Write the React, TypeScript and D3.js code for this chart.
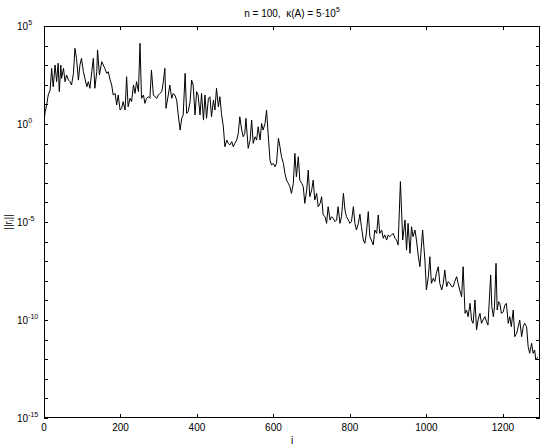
import React, { useEffect, useRef } from "react";
import * as d3 from "d3";

// iteration index i and log10 ||r_i||
const iteration = [
  1, 3, 7, 11, 16, 20, 24, 29, 33, 37,
  40, 44, 46, 51, 55, 59, 64, 68, 72, 77,
  81, 85, 90, 94, 98, 103, 107, 112, 116, 120,
  125, 129, 133, 138, 140, 145, 151, 155, 159, 164,
  168, 173, 177, 181, 186, 190, 194, 199, 203, 207,
  212, 216, 220, 225, 229, 234, 238, 242, 247, 251,
  255, 260, 264, 268, 273, 277, 281, 286, 290, 295,
  299, 303, 308, 312, 316, 319, 325, 329, 334, 338,
  342, 347, 351, 356, 360, 364, 369, 373, 377, 382,
  386, 390, 395, 399, 403, 408, 412, 417, 421, 425,
  430, 434, 438, 443, 447, 451, 456, 460, 464, 469,
  473, 478, 482, 486, 491, 495, 499, 504, 508, 512,
  517, 521, 525, 528, 534, 539, 543, 547, 552, 556,
  560, 565, 569, 573, 578, 582, 586, 591, 595, 600,
  604, 608, 613, 617, 621, 626, 630, 634, 639, 643,
  647, 652, 656, 660, 665, 669, 674, 678, 682, 687,
  691, 695, 700, 704, 708, 713, 717, 722, 726, 730,
  735, 739, 743, 748, 752, 756, 761, 765, 769, 774,
  778, 783, 787, 791, 796, 800, 804, 809, 813, 817,
  822, 826, 830, 835, 839, 843, 848, 852, 856, 861,
  865, 870, 874, 878, 883, 887, 891, 896, 900, 904,
  909, 913, 918, 922, 926, 932, 938, 944, 948, 952,
  957, 961, 965, 970, 974, 979, 983, 990, 996, 1000,
  1005, 1009, 1013, 1018, 1022, 1026, 1031, 1035, 1040, 1044,
  1048, 1053, 1057, 1061, 1066, 1070, 1074, 1079, 1083, 1087,
  1092, 1096, 1101, 1105, 1109, 1114, 1118, 1122, 1127, 1131,
  1135, 1140, 1144, 1148, 1153, 1157, 1161, 1168, 1171, 1175,
  1178, 1182, 1185, 1189, 1192, 1196, 1201, 1205, 1209, 1214,
  1218, 1222, 1227, 1231, 1236, 1240, 1244, 1249, 1253, 1257,
  1262, 1266, 1270, 1275, 1279, 1283, 1286, 1291,
];

const log10Residual = [
  0.3, 0.63, 0.97, 1.48, 1.73, 2.84, 1.9, 3.01, 2.16, 3.1,
  1.65, 3.01, 2.33, 2.84, 2.16, 2.5, 2.24, 2.16, 1.99, 2.58,
  3.86, 3.35, 2.24, 3.01, 3.35, 2.67, 2.33, 1.9, 2.16, 1.82,
  2.67, 3.35, 1.82, 2.67, 3.78, 2.5, 3.18, 3.01, 2.84, 2.58,
  2.67, 2.24, 1.99, 1.48, 1.56, 0.97, 1.48, 0.71, 0.8, 1.14,
  0.71, 2.41, 0.88, 1.31, 1.14, 1.99, 1.56, 2.16, 1.65, 4.12,
  1.31, 1.48, 1.05, 1.31, 1.39, 1.31, 2.75, 1.48, 1.39, 1.31,
  1.48, 1.56, 1.65, 2.16, 2.84, 0.8, 1.48, 1.99, 1.31, 1.56,
  1.48, 1.22, 0.46, -0.31, 0.29, 0.46, 2.58, 0.54, 0.63, 1.14,
  2.24, 1.99, 0.46, 1.65, 1.48, 0.46, 1.56, 0.2, 1.48, 0.29,
  1.31, 1.39, 0.37, 1.22, 0.71, 1.82, 0.88, 1.39, 0.54, -0.14,
  -1.16, -0.82, -0.99, -1.07, -0.9, -1.16, -0.99, -0.82, -0.48, 0.37,
  -0.31, -0.65, -0.48, 0.29, -1.24, -0.82, 0.2, -0.99, -0.65, -0.82,
  -0.14, -0.82, 0.03, -0.31, 0.03, 0.71, -0.48, -1.84, -2.09, -2.01,
  -2.18, -2.01, -0.73, -1.16, -1.67, -2.01, -2.52, -2.86, -3.03, -3.2,
  -3.54, -3.03, -1.5, -2.69, -1.67, -2.86, -3.03, -3.2, -4.05, -3.37,
  -2.35, -3.71, -3.37, -2.86, -3.88, -3.54, -4.22, -4.05, -3.71, -4.64,
  -4.73, -5.07, -4.22, -4.9, -4.73, -4.81, -4.98, -4.9, -4.22, -5.07,
  -4.73, -3.54, -4.39, -4.73, -4.9, -5.07, -4.98, -4.22, -5.07, -5.41,
  -5.07, -4.6, -5.24, -5.92, -6.09, -5.58, -4.47, -5.75, -5.92, -6.17,
  -5.41, -5.58, -4.64, -5.58, -5.41, -5.83, -5.66, -5.92, -5.66, -5.75,
  -5.66, -5.58, -5.83, -5.92, -6.17, -2.94, -5.92, -4.9, -6.43, -5.07,
  -6.6, -5.24, -5.75, -5.41, -5.92, -6.77, -7.28, -5.41, -6.94, -8.47,
  -7.79, -6.77, -8.13, -7.87, -8.04, -7.62, -7.28, -8.13, -8.47, -8.13,
  -7.45, -8.3, -8.04, -8.13, -8.3, -8.3, -8.04, -7.79, -8.13, -8.47,
  -8.81, -7.28, -9.66, -9.49, -9.83, -9.15, -10.0, -10.17, -8.98, -10.51,
  -10.0, -9.66, -10.17, -10.0, -9.83, -10.08, -10.26, -7.7, -9.32, -9.83,
  -9.32, -7.11, -9.49, -9.07, -9.15, -9.66, -9.58, -9.24, -9.15, -10.17,
  -9.83, -10.34, -9.49, -10.85, -10.68, -10.34, -10.0, -10.85, -10.34, -10.17,
  -10.34, -11.36, -11.7, -11.19, -11.7, -11.53, -12.04, -11.9,
];

const xTicks = [0, 200, 400, 600, 800, 1000, 1200];
const yLabelExponents = [5, 0, -5, -10, -15];
const yTickExponents = [
  5, 4, 3, 2, 1, 0, -1, -2, -3, -4, -5, -6, -7, -8, -9, -10, -11, -12, -13, -14, -15,
];
const xMax = 1297;

const FONT = "'Liberation Sans', Arial, Helvetica, sans-serif";

const App = () => {
  const ref = useRef<SVGSVGElement>(null);

  useEffect(() => {
    if (!ref.current) return;
    const width = 545;
    const height = 448;
    const margin = { top: 26, right: 5, bottom: 30, left: 44 };
    const x0 = margin.left;
    const x1 = width - margin.right;
    const y0 = margin.top;
    const y1 = height - margin.bottom;

    const svg = d3.select(ref.current);
    svg.selectAll("*").remove();

    const x = d3.scaleLinear().domain([0, xMax]).range([x0, x1]);
    const y = d3.scaleLog().domain([1e-15, 1e5]).range([y1, y0]);

    svg.append("rect").attr("width", width).attr("height", height).attr("fill", "#fff");

    svg.append("clipPath").attr("id", "plot-clip")
      .append("rect")
      .attr("x", x0).attr("y", y0)
      .attr("width", x1 - x0).attr("height", y1 - y0);

    const line = d3.line<number>()
      .x((d, k) => x(iteration[k]))
      .y((d) => y(Math.pow(10, d)));

    svg.append("path")
      .datum(log10Residual)
      .attr("clip-path", "url(#plot-clip)")
      .attr("fill", "none")
      .attr("stroke", "#000")
      .attr("stroke-width", 1)
      .attr("stroke-linejoin", "round")
      .attr("d", line);

    // box
    svg.append("rect")
      .attr("x", x0 + 0.5).attr("y", y0 + 0.5)
      .attr("width", x1 - x0 - 1).attr("height", y1 - y0 - 1)
      .attr("fill", "none").attr("stroke", "#000").attr("stroke-width", 1);

    const tickLen = 4;
    const ticks = svg.append("g").attr("stroke", "#000").attr("stroke-width", 1);

    xTicks.forEach((t) => {
      const px = Math.round(x(t)) + 0.5;
      ticks.append("line").attr("x1", px).attr("x2", px).attr("y1", y1).attr("y2", y1 - tickLen);
      ticks.append("line").attr("x1", px).attr("x2", px).attr("y1", y0).attr("y2", y0 + tickLen);
    });

    yTickExponents.forEach((e) => {
      const py = Math.round(y(Math.pow(10, e))) + 0.5;
      ticks.append("line").attr("x1", x0).attr("x2", x0 + tickLen).attr("y1", py).attr("y2", py);
      ticks.append("line").attr("x1", x1).attr("x2", x1 - tickLen).attr("y1", py).attr("y2", py);
    });

    const text = svg.append("g")
      .attr("font-family", FONT)
      .attr("font-size", 10)
      .attr("fill", "#000");

    xTicks.forEach((t) => {
      text.append("text")
        .attr("x", x(t))
        .attr("y", y1 + 13)
        .attr("text-anchor", "middle")
        .text(d3.format("d")(t));
    });

    yLabelExponents.forEach((e) => {
      const py = y(Math.pow(10, e));
      const label = text.append("text")
        .attr("x", 17)
        .attr("y", py + 4);
      label.append("tspan").text("10");
      label.append("tspan")
        .attr("dy", -5)
        .attr("font-size", 7)
        .text(e < 0 ? `-${-e}` : `${e}`);
    });

    text.append("text")
      .attr("x", (x0 + x1) / 2)
      .attr("y", height - 4)
      .attr("text-anchor", "middle")
      .attr("fill", "#000")
      .style("fill", "#000")
      .text("i");

    const ylab = text.append("text")
      .attr("transform", `translate(12,${(y0 + y1) / 2}) rotate(-90)`)
      .attr("text-anchor", "middle");
    ylab.append("tspan").text("||r");
    ylab.append("tspan").attr("dy", 2).attr("font-size", 7).text("i");
    ylab.append("tspan").attr("dy", -2).text("||");

    const title = text.append("text")
      .attr("x", (x0 + x1) / 2)
      .attr("y", 17)
      .attr("text-anchor", "middle")
      .style("white-space", "pre");
    title.append("tspan").text("n = 100,  \u03ba(A) = 5\u00b710");
    title.append("tspan").attr("dy", -5).attr("font-size", 7).text("5");
  }, []);

  return (
    <svg
      ref={ref}
      width={545}
      height={448}
      style={{ position: "absolute", left: 0, top: 0 }}
    />
  );
};

export default App;
